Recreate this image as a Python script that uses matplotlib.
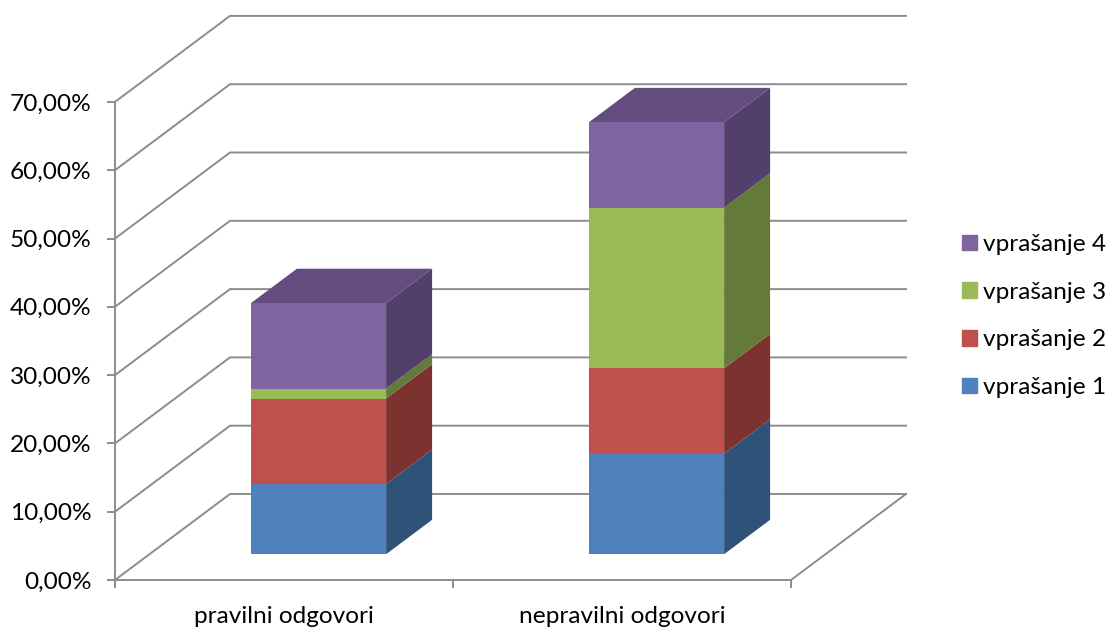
import matplotlib
matplotlib.use('Agg')
import matplotlib.pyplot as plt
from matplotlib.patches import Polygon, Patch
import numpy as np

plt.rcParams['font.family'] = ['Lato', 'DejaVu Sans']

categories = ['pravilni odgovori', 'nepravilni odgovori']
series = ['vprašanje 1', 'vprašanje 2', 'vprašanje 3', 'vprašanje 4']
v1 = [10.29, 14.71]
v2 = [12.50, 12.50]
v3 = [1.47, 23.53]
v4 = [12.50, 12.50]
y_ticks = [0, 10, 20, 30, 40, 50, 60, 70]
y_labels = ['0,00%', '10,00%', '20,00%', '30,00%', '40,00%', '50,00%', '60,00%', '70,00%']

front = ['#4F81BD', '#C0504D', '#9BBB59', '#8064A2']
side = ['#2F5278', '#7D3230', '#647A39', '#533F6B']
top = ['#3C6696', '#99403D', '#7C9647', '#634D7E']
axis_col = '#8C8C8C'
lw = 1.4
fs = 17.6

# pixels per unit on the front plane
px_x = 338
px_y = 6.83

# depth of the box, as offset in data units (x in categories, y in percent)
DX = 115 / px_x
DY = 86 / px_y
d0, d1 = 0.3, 0.7
bar_w = 0.4


def proj(x, y, d):
    return x + d * DX, y + d * DY


fig = plt.figure(figsize=(11.11, 6.27), dpi=100)
ax = fig.add_axes([0, 0, 1, 1])
ax.set_xlim(-115 / px_x, (1111 - 115) / px_x)
ax.set_ylim(-47 / px_y, 580 / px_y)
ax.patch.set_visible(False)

# walls and floor
n = len(categories)
for y in y_ticks:
    xs = [0, proj(0, y, 1)[0], proj(n, y, 1)[0]]
    ys = [y, proj(0, y, 1)[1], proj(n, y, 1)[1]]
    ax.plot(xs, ys, color=axis_col, lw=lw, zorder=1, solid_joinstyle='miter')
ax.plot([n, proj(n, 0, 1)[0]], [0, proj(n, 0, 1)[1]], color=axis_col, lw=lw, zorder=1)

# stacked boxes
bottoms = np.zeros(n) + d0 * DY
for k, vals in enumerate([v1, v2, v3, v4]):
    vals = np.array(vals)
    lefts = np.arange(n) + 0.5 - bar_w / 2 + d0 * DX
    ax.bar(lefts, vals, bar_w, bottom=bottoms, align='edge', color=front[k], zorder=3)
    for i in range(n):
        x0 = lefts[i]
        x1 = x0 + bar_w
        b = bottoms[i]
        t = b + vals[i]
        dd = (d1 - d0)
        ax.add_patch(Polygon([(x1, b), (x1 + dd * DX, b + dd * DY),
                              (x1 + dd * DX, t + dd * DY), (x1, t)],
                             closed=True, color=side[k], lw=0, zorder=2.5))
        if k == 3:
            ax.add_patch(Polygon([(x0, t), (x0 + dd * DX, t + dd * DY),
                                  (x1 + dd * DX, t + dd * DY), (x1, t)],
                                 closed=True, color=top[k], lw=0, zorder=2.5))
    bottoms = bottoms + vals

# axes
for s in ['top', 'right']:
    ax.spines[s].set_visible(False)
ax.spines['left'].set_position(('data', 0))
ax.spines['bottom'].set_position(('data', 0))
ax.spines['left'].set_bounds(0, 70)
ax.spines['bottom'].set_bounds(0, n)
ax.spines['left'].set_color(axis_col)
ax.spines['bottom'].set_color(axis_col)
ax.spines['left'].set_linewidth(lw)
ax.spines['bottom'].set_linewidth(lw)

ax.set_yticks(y_ticks)
ax.set_yticklabels(y_labels)
ax.tick_params(axis='y', length=5.8, width=lw, color=axis_col, labelsize=fs, labelcolor='black', pad=11)
ax.set_xticks(range(n + 1))
ax.set_xticklabels([])
ax.tick_params(axis='x', which='major', length=6, width=lw, color=axis_col)
ax.set_xticks(np.arange(n) + 0.5, minor=True)
ax.set_xticklabels(categories, minor=True)
ax.tick_params(axis='x', which='minor', length=0, labelsize=fs, labelcolor='black', pad=18.5)

handles = [Patch(color=front[k], label=series[k]) for k in range(4)][::-1]
ax.legend(handles=handles, frameon=False, fontsize=fs, loc='center left',
          bbox_to_anchor=(962 / 1111, 1 - 316 / 627), borderpad=0, borderaxespad=0,
          handlelength=0.61, handleheight=0.61, handletextpad=0.25, labelspacing=1.09)

fig.savefig('out.png', dpi=100)
